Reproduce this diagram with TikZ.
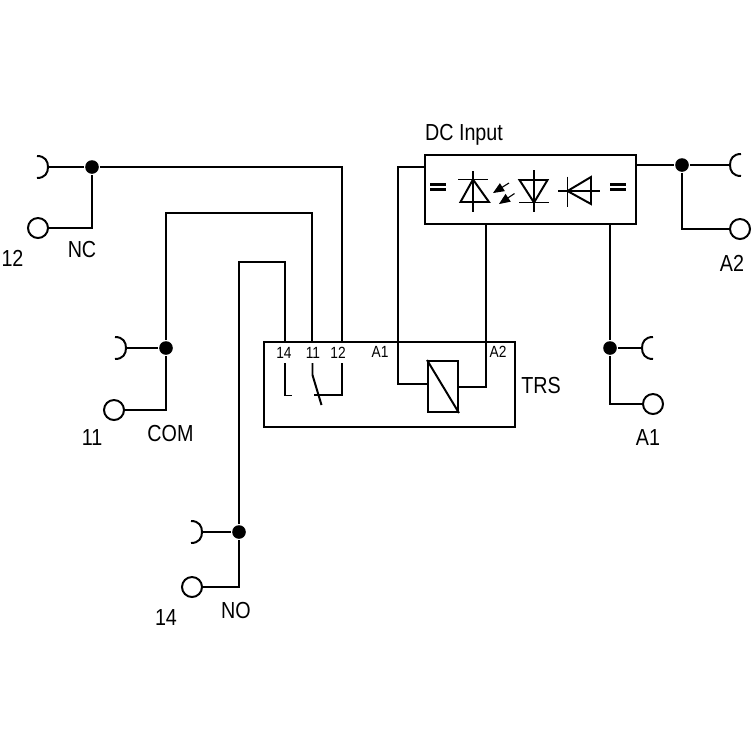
\documentclass[tikz,border=0pt]{standalone}
\usepackage{fontspec}
\setmainfont{Liberation Sans}[FakeStretch=0.85]
\usetikzlibrary{arrows,positioning,shapes,calc}

\begin{document}
\begin{tikzpicture}[x=0.025cm,y=-0.025cm,line width=1.4pt,>=triangle 45,
	term node/.style={circle,draw,fill=white,inner sep=0pt,minimum size=.5cm},
	dot node/.style={circle,fill=black,inner sep=0pt,minimum size=.34cm},
	box node/.style={rectangle,draw,inner sep=0pt},
	big label/.style={inner sep=0pt,font=\fontsize{16.5}{18}\selectfont},
	pin label/.style={inner sep=0pt,font=\fontsize{11.5}{14}\selectfont},
	socket/.pic={\draw (-11,-11) .. controls (-3,-11) and (0,-6) .. (0,0) .. controls (0,6) and (-3,11) .. (-11,11);}]

    \useasboundingbox (0,0) rectangle (752,752);

    % relay box and input box
    \node[box node,minimum width=6.275cm,minimum height=2.125cm] (TRS) at (389.5,384.5) {};
    \node[box node,minimum width=5.275cm,minimum height=1.725cm] (DC) at (530.5,189.5) {};
    \node[box node,minimum width=.75cm,minimum height=1.275cm] (coil) at (443,386.5) {};
    \draw (coil.north west) -- (coil.south east);

    % terminals
    \node[term node] (T12) at (38,228) {};
    \node[term node] (T11) at (114,410) {};
    \node[term node] (T14) at (192,587) {};
    \node[term node] (TA1) at (653,404) {};
    \node[term node] (TA2) at (740,229) {};

    % junctions
    \node[dot node] (J12) at (92,167) {};
    \node[dot node] (J11) at (166,348) {};
    \node[dot node] (J14) at (239,532) {};
    \node[dot node] (JA1) at (610,348) {};
    \node[dot node] (JA2) at (682,165) {};

    % sockets
    \coordinate (S12) at (48,167);
    \coordinate (S11) at (126,348);
    \coordinate (S14) at (202,532);
    \coordinate (SA1) at (642,348);
    \coordinate (SA2) at (730,165);
    \pic at (S12) {socket};
    \pic at (S11) {socket};
    \pic at (S14) {socket};
    \pic[xscale=-1] at (SA1) {socket};
    \pic[xscale=-1] at (SA2) {socket};

    % pins on the relay box
    \coordinate (P14) at (285,342);
    \coordinate (P11) at (312,342);
    \coordinate (P12) at (342,342);
    \coordinate (PA1) at (398,342);
    \coordinate (PA2) at (486,342);
    \coordinate (D1) at (398,167);
    \coordinate (D2) at (486,224);
    \coordinate (D3) at (610,224);

    % wiring
    \draw (S12) -- (J12) -- (J12 -| P12) -- (P12);
    \draw (T12) -| (J12);
    \draw (S11) -- (J11);
    \draw (T11) -| (J11);
    \draw (J11) |- (165,213) -| (P11);
    \draw (S14) -- (J14);
    \draw (T14) -| (J14);
    \draw (J14) |- (285,262) -- (P14);
    \draw (PA1) -- (D1) -- (D1 -| DC.west);
    \draw (D2) -- (PA2);
    \draw (D3) -- (JA1) -- (SA1);
    \draw (JA1) |- (TA1);
    \draw (636,165) -- (JA2) -- (SA2);
    \draw (JA2) |- (TA2);

    % contacts
    \draw (285,363) |- (292,395.5);
    \draw (312.5,363) -- (312.5,375) -- (321.5,405);
    \draw (342,363) |- (314,395);

    % coil leads
    \draw (PA1) |- (coil.west |- 0,384);
    \draw (PA2) |- (coil.east |- 0,387);

    % equal signs
    \foreach \xa in {430,610} {
        \draw[line width=1.6pt] (\xa,184.5) -- +(16,0) (\xa,189.5) -- +(16,0);
    }

    % first diode
    \draw (473,171) -- (473,212) (458,179.5) -- (488,179.5);
    \draw (473,179.5) -- (460.5,202) -- (489,202) -- cycle;
    % light arrows
    \draw[->,line width=.8pt] (509,183) -- (493,193);
    \draw[->,line width=.8pt] (514.5,193.5) -- (499,204);
    % second diode
    \draw (534,170) -- (534,212) (519,202.5) -- (549,202.5);
    \draw (519.5,180) -- (547.5,180) -- (534,202.5) -- cycle;
    % third diode
    \draw (558,191) -- (600,191) (567.5,176.5) -- (567.5,207);
    \draw (567.5,191) -- (591,177) -- (591,204) -- cycle;

    % labels
    \node[big label] (Ldc) at (464,135) {DC Input};
    \node[big label] (Ltrs) at (541,386) {TRS};
    \node[big label] (L12) at (12.5,258) {12};
    \node[big label] (Lnc) at (82,250) {NC};
    \node[big label] (L11) at (92,438) {11};
    \node[big label] (Lcom) at (170.5,434) {COM};
    \node[big label] (L14) at (166,618) {14};
    \node[big label] (Lno) at (236,611) {NO};
    \node[big label] (La1) at (648,438) {A1};
    \node[big label] (La2) at (732,263) {A2};
    \node[pin label] (p14) at (284,353) {14};
    \node[pin label] (p11) at (313,353) {11};
    \node[pin label] (p12) at (338,353) {12};
    \node[pin label] (pa1) at (380,352) {A1};
    \node[pin label] (pa2) at (498,352) {A2};

\end{tikzpicture}
\end{document}
